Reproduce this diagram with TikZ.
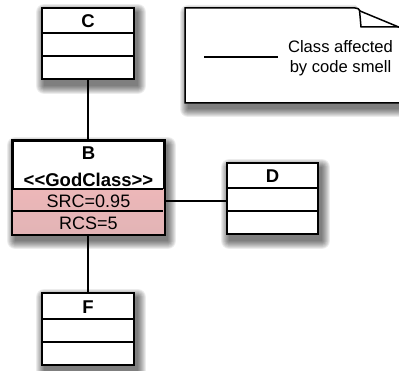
\documentclass[tikz,border=0pt]{standalone}
\usepackage{fontspec}
\setmainfont{Liberation Sans}
\definecolor{smelltop}{RGB}{248,186,186}
\definecolor{smellbot}{RGB}{226,180,182}
\pgfdeclarelayer{shadowlayer}
\pgfsetlayers{shadowlayer,main}
\tikzset{
  classbox/.style={draw=black, line width=1.8pt, fill=white, rectangle, inner sep=0pt},
  outline/.style={draw=black, line width=1.8pt},
  sep/.style={draw=black, line width=1.5pt},
  conn/.style={draw=black, line width=1.2pt},
  title/.style={font=\fontsize{18.5}{20}\selectfont\bfseries, inner sep=0pt},
  attr/.style={font=\fontsize{18}{20}\selectfont, inner sep=0pt},
  notetext/.style={font=\fontsize{16.6}{20}\selectfont, align=center, inner sep=0pt},
}
% soft drop shadow behind a rectangle given by two corners
\newcommand\softshadowbody[2]{%
  \foreach \r in {8,7,...,0}{
    \fill[black, opacity=0.075, rounded corners=\r pt]
      ([shift={(3-\r,5-\r)}]#1) rectangle ([shift={(3+\r,6+\r)}]#2);
  }}
\newcommand\softshadow[2]{%
  \begin{pgfonlayer}{shadowlayer}\softshadowbody{#1}{#2}\end{pgfonlayer}}
\begin{document}
\begin{tikzpicture}[x=1pt, y=-1pt]
\useasboundingbox (0,0) rectangle (399,371);

% legend note with folded corner
\coordinate (noteNW) at (185,8);
\coordinate (noteSE) at (430,103);
\begin{pgfonlayer}{shadowlayer}
  \begin{scope}
    \clip (0,0) -- (352,0) -- (360,11) -- (430,40) -- (450,200) -- (0,200) -- cycle;
    \softshadowbody{noteNW}{noteSE}
  \end{scope}
\end{pgfonlayer}
\filldraw[fill=white, draw=black, line width=1.5pt]
  (noteNW) -- (355,8) .. controls (358,8) and (359,9) .. (360,11)
  -- (430,40) -- (noteSE) -- (185,103) -- cycle;
\draw[line width=1.5pt] (359.5,10) -- (361,27) -- (430,27);
\coordinate (legA) at (204,57);
\coordinate (legB) at (278,57);
\draw[conn, line width=1.5pt] (legA) -- (legB);
\node[notetext] (legtext) at (340.5,58) {Class affected\\by code smell};

% class C
\node[classbox, minimum width=92pt, minimum height=71pt] (C) at (88,43.5) {};
\softshadow{C.north west}{C.south east}
\draw[sep] (C.north west) ++(0,26) -- ++(92,0);
\draw[sep] (C.north west) ++(0,49) -- ++(92,0);
\node[title] (Ct) at (88,21) {C};

% class B (god class)
\node[classbox, minimum width=151pt, minimum height=93pt] (B) at (88.5,187.5) {};
\softshadow{B.north west}{B.south east}
\shade[top color=smelltop, bottom color=smellbot] (B.north west) ++(0,49) rectangle (B.south east);
\draw[sep] (B.north west) ++(0,49) -- ++(151,0);
\draw[sep] (B.north west) ++(0,71) -- ++(151,0);
\draw[outline] (B.north west) rectangle (B.south east);
\node[title] (Bt) at (88.5,153) {B};
\node[title] (Bs) at (88.5,180) {<{}<GodClass>{}>};
\node[attr] (srcB) at (88.5,201) {SRC=0.95};
\node[attr] (rcsB) at (88.5,223) {RCS=5};

% class D
\node[classbox, minimum width=91pt, minimum height=71pt] (D) at (272.5,198.5) {};
\softshadow{D.north west}{D.south east}
\draw[sep] (D.north west) ++(0,26) -- ++(91,0);
\draw[sep] (D.north west) ++(0,49) -- ++(91,0);
\node[title] (Dt) at (272.5,176) {D};

% class F
\node[classbox, minimum width=92pt, minimum height=72pt] (F) at (88,329) {};
\softshadow{F.north west}{F.south east}
\draw[sep] (F.north west) ++(0,27) -- ++(92,0);
\draw[sep] (F.north west) ++(0,50) -- ++(92,0);
\node[title] (Ft) at (88,307) {F};

% associations
\draw[conn] (C.south) -- (C.south |- B.north);
\draw[conn] (B.east |- srcB) -- (D.west |- srcB);
\draw[conn] (F.north |- B.south) -- (F.north);
\end{tikzpicture}
\end{document}
